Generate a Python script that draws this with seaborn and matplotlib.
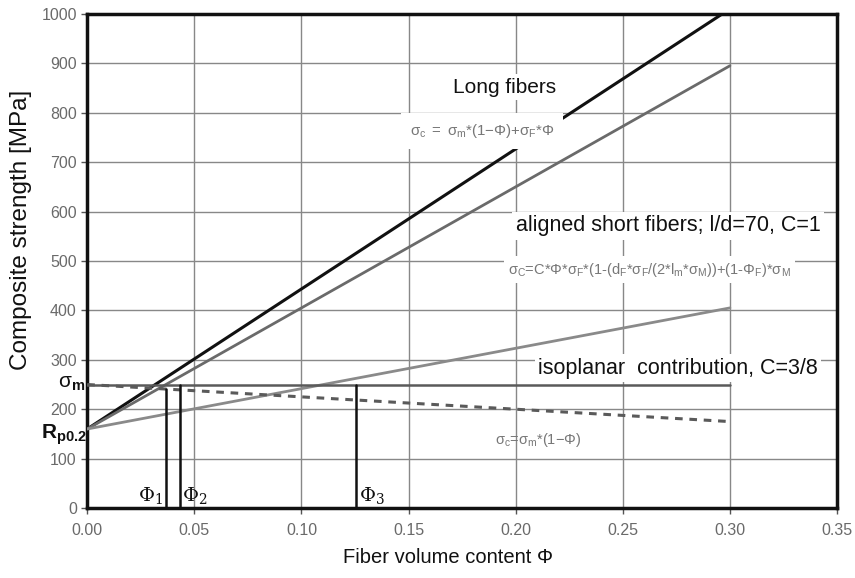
import numpy as np
import pandas as pd
import matplotlib
matplotlib.use("Agg")
import matplotlib.pyplot as plt
import seaborn as sns

# ---- data ----
phi_ends = [0.0, 0.3]
long_fibers = [160, 1010]
aligned_short = [160, 895]
isoplanar = [160, 405]
sigma_m_line = [250, 250]
matrix_only = [250, 175]
phi_marks = [0.0367, 0.0431, 0.1255]
phi_mark_tops = [241, 250, 250]
phi_mark_labels = [r"$\Phi_1$", r"$\Phi_2$", r"$\Phi_3$"]
x_ticks = [0.0, 0.05, 0.10, 0.15, 0.20, 0.25, 0.30, 0.35]
y_ticks = list(range(0, 1001, 100))

sns.set_theme(style="white")
plt.rcParams['font.family'] = ['Liberation Sans', 'DejaVu Sans']
plt.rcParams['mathtext.fontset'] = 'custom'
plt.rcParams['mathtext.rm'] = 'Liberation Sans'
plt.rcParams['mathtext.it'] = 'Liberation Sans:italic'
plt.rcParams['mathtext.bf'] = 'Liberation Sans:bold'

fig = plt.figure(figsize=(8.55, 5.78), dpi=100)
ax = fig.add_axes([0.102, 0.121, 0.877, 0.855])

df = pd.DataFrame({
    "phi": phi_ends * 5,
    "val": long_fibers + aligned_short + isoplanar + sigma_m_line + matrix_only,
    "series": ["long"] * 2 + ["aligned"] * 2 + ["iso"] * 2 + ["sm"] * 2 + ["matrix"] * 2,
})
styles = {
    "long": dict(color="#111111", lw=2.2, ls="-"),
    "aligned": dict(color="#6a6a6a", lw=2.0, ls="-"),
    "iso": dict(color="#8a8a8a", lw=2.0, ls="-"),
    "sm": dict(color="#5a5a5a", lw=1.8, ls="-"),
    "matrix": dict(color="#5a5a5a", lw=2.2, ls=(0, (2.5, 2.2))),
}
for name, st in styles.items():
    sub = df[df.series == name]
    sns.lineplot(data=sub, x="phi", y="val", ax=ax, color=st["color"],
                 linewidth=st["lw"], linestyle=st["ls"], legend=False, zorder=3)

for xm, top in zip(phi_marks, phi_mark_tops):
    ax.plot([xm, xm], [0, top], color="#111111", lw=1.8, zorder=3)

ax.set_xlim(0, 0.35)
ax.set_ylim(0, 1000)
ax.set_xticks(x_ticks)
ax.set_xticklabels([f"{v:.2f}" for v in x_ticks])
ax.set_yticks(y_ticks)
ax.grid(True, color="#888888", lw=1.0)
ax.set_axisbelow(True)
for s in ax.spines.values():
    s.set_color("#111111")
    s.set_linewidth(2.5)
ax.tick_params(axis="both", labelsize=11.5, colors="#555555", length=4, width=1,
               direction="out", left=True, bottom=True)
ax.tick_params(axis="x", pad=7)
for lab in ax.get_xticklabels() + ax.get_yticklabels():
    lab.set_color("#6a6a6a")

ax.set_xlabel("Fiber volume content Φ", fontsize=14.5, color="#111111")
ax.xaxis.set_label_coords(0.481, -0.081)
ax.set_ylabel("Composite strength [MPa]", fontsize=17.5, color="#111111")
ax.yaxis.set_label_coords(-0.073, 0.563)

bb = dict(facecolor="white", edgecolor="none", boxstyle="square,pad=0.15")
ax.text(0.195, 852, "Long fibers", fontsize=15, ha="center", va="center",
        color="#111111", bbox=bb, zorder=5)
ax.text(0.1505, 762, r"$\mathregular{σ_c\ =\ σ_m}$*(1$-$Φ)+$\mathregular{σ_F}$*Φ", fontsize=10.8,
        ha="left", va="center", color="#777777",
        bbox=dict(facecolor="white", edgecolor="none", boxstyle="square,pad=0.6"), zorder=5)
ax.text(0.2, 571, "aligned short fibers; l/d=70, C=1", fontsize=15.5, ha="left", va="center",
        color="#111111", bbox=bb, zorder=5)
ax.text(0.1965, 482,
        r"$\mathregular{σ_C}$=C*Φ*$\mathregular{σ_F}$*(1-(d$\mathregular{_F}$*$\mathregular{σ_F}$/(2*l$\mathregular{_m}$*$\mathregular{σ_M}$))+(1-Φ$\mathregular{_F}$)*$\mathregular{σ_M}$",
        fontsize=10.5, ha="left", va="center", color="#777777",
        bbox=dict(facecolor="white", edgecolor="none", boxstyle="square,pad=0.3"), zorder=5)
ax.text(0.2105, 283, "isoplanar  contribution, C=3/8", fontsize=15.5, ha="left", va="center",
        color="#111111", bbox=bb, zorder=5)
ax.text(0.1905, 138, r"$\mathregular{σ_c}$=$\mathregular{σ_m}$*(1$-$Φ)", fontsize=10.5, ha="left", va="center",
        color="#777777", zorder=5)

for i, (xm, lab) in enumerate(zip(phi_marks, phi_mark_labels)):
    if i == 0:
        ax.text(xm - 0.0012, 5, lab, fontsize=14, ha="right", va="bottom",
                color="#111111", math_fontfamily="dejavuserif")
    else:
        ax.text(xm + 0.0012, 5, lab, fontsize=14, ha="left", va="bottom",
                color="#111111", math_fontfamily="dejavuserif")

ax.text(-0.0008, 252, r"$\mathregular{σ}_\mathbf{m}$", fontsize=15, ha="right", va="center",
        color="#111111", clip_on=False)
ax.text(-0.0003, 148, r"$\mathbf{R_{p0.2}}$", fontsize=15, ha="right", va="center",
        color="#111111", clip_on=False)

fig.savefig("out.png", dpi=100)
